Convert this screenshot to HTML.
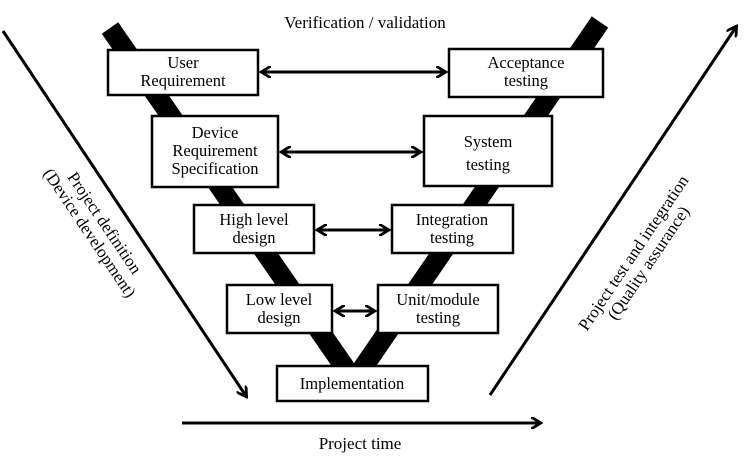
<!DOCTYPE html>
<html><head><style>
body{margin:0;background:#fff;}
svg text{font-family:"Liberation Serif",serif;fill:#000;}
</style></head><body>
<svg width="754" height="468" viewBox="0 0 754 468" xmlns="http://www.w3.org/2000/svg">
<defs>
<marker id="a" markerWidth="12" markerHeight="12" refX="9" refY="6" orient="auto-start-reverse" markerUnits="userSpaceOnUse"><path d="M0,0 L10,6 L0,12" fill="none" stroke="#000" stroke-width="2.8"/></marker>
</defs>
<line x1="110" y1="28" x2="348" y2="372" stroke="#000" stroke-width="20"/>
<line x1="600" y1="22" x2="360" y2="372" stroke="#000" stroke-width="20"/>
<text x="365" y="28" font-size="17" text-anchor="middle">Verification / validation</text>
<g fill="#fff" stroke="#000" stroke-width="2.5">
<rect x="108" y="50" width="150" height="45"/>
<rect x="449" y="49" width="154" height="48"/>
<rect x="152" y="116" width="126" height="71"/>
<rect x="424" y="116" width="128" height="70"/>
<rect x="194" y="205" width="120" height="48"/>
<rect x="392" y="205" width="121" height="48"/>
<rect x="227" y="285" width="105" height="48"/>
<rect x="378" y="285" width="120" height="48"/>
<rect x="277" y="366" width="151" height="35"/>
</g>
<g font-size="16.5" text-anchor="middle">
<text x="183" y="68">User</text><text x="183" y="86">Requirement</text>
<text x="526" y="68">Acceptance</text><text x="526" y="86">testing</text>
<text x="215" y="138">Device</text><text x="215" y="156">Requirement</text><text x="215" y="174">Specification</text>
<text x="488" y="147">System</text><text x="488" y="170">testing</text>
<text x="254" y="225">High level</text><text x="254" y="243">design</text>
<text x="452" y="225">Integration</text><text x="452" y="243">testing</text>
<text x="279" y="305">Low level</text><text x="279" y="323">design</text>
<text x="438" y="305">Unit/module</text><text x="438" y="323">testing</text>
<text x="352" y="389">Implementation</text>
</g>
<g stroke="#000" stroke-width="3" fill="none">
<line x1="262" y1="72" x2="445" y2="72" marker-start="url(#a)" marker-end="url(#a)"/>
<line x1="282" y1="152" x2="420" y2="152" marker-start="url(#a)" marker-end="url(#a)"/>
<line x1="318" y1="230" x2="388" y2="230" marker-start="url(#a)" marker-end="url(#a)"/>
<line x1="336" y1="311" x2="374" y2="311" marker-start="url(#a)" marker-end="url(#a)"/>
<line x1="3" y1="31" x2="246" y2="396" marker-end="url(#a)"/>
<line x1="490" y1="395" x2="736" y2="27" marker-end="url(#a)"/>
<line x1="182" y1="423" x2="540" y2="423" marker-end="url(#a)"/>
</g>
<text x="360" y="449" font-size="17" text-anchor="middle">Project time</text>
<g font-size="17" text-anchor="middle">
<text transform="translate(100,226) rotate(56)"><tspan x="0" y="0">Project definition</tspan><tspan x="0" y="18">(Device development)</tspan></text>
<text transform="translate(638,256) rotate(-56)"><tspan x="0" y="0">Project test and integration</tspan><tspan x="0" y="18">(Quality assurance)</tspan></text>
</g>
</svg>
</body></html>
